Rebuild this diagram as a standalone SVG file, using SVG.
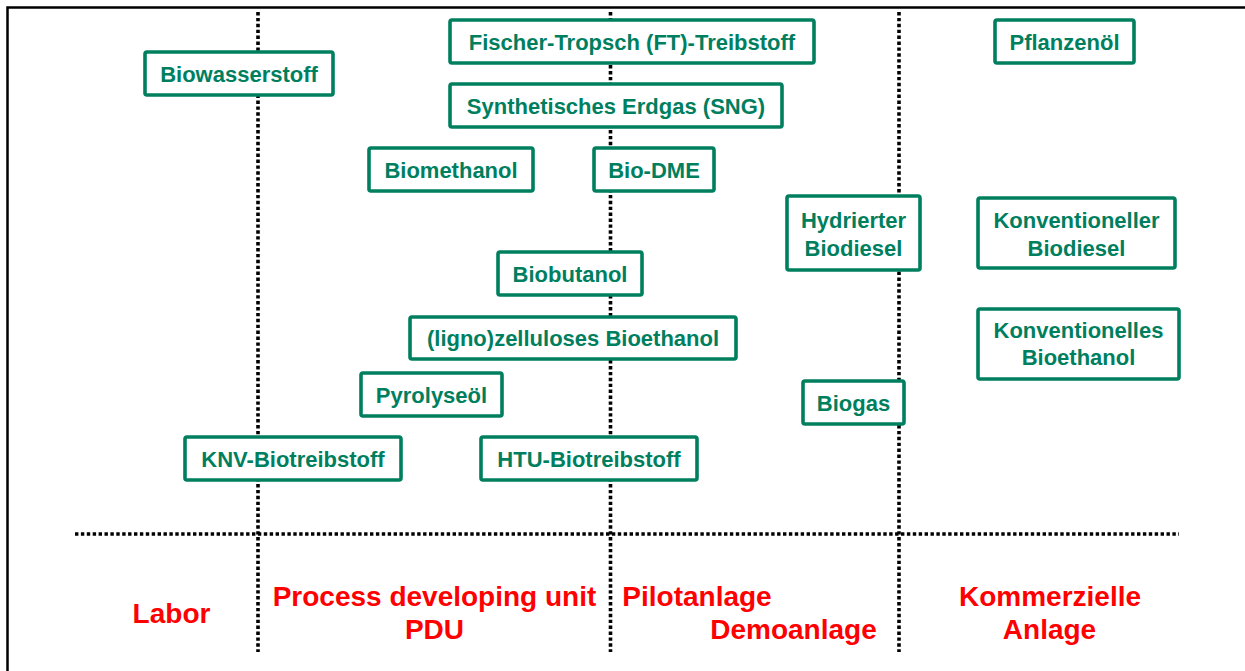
<svg xmlns="http://www.w3.org/2000/svg" width="1245" height="671" viewBox="0 0 1245 671">
<style>
.frame{fill:none;stroke:#000;stroke-width:2.5}
.grid{fill:none;stroke:#000;stroke-width:3.6;stroke-dasharray:3.4 2.5}
.box{fill:#fff;stroke:#007F5F;stroke-width:3.6}
.lbl{font-family:"Liberation Sans",Arial,sans-serif;font-weight:bold;font-size:22px;fill:#007F5F;text-anchor:middle}
.stage{font-family:"Liberation Sans",Arial,sans-serif;font-weight:bold;font-size:28px;fill:#FF0000;text-anchor:middle}
</style>
<rect width="1245" height="671" fill="#fff"/>
<path class="frame" d="M7.5,671 V7.5 H1245"/>
<g id="connectors">
<line class="grid" x1="258" y1="12" x2="258" y2="652"/>
<line class="grid" x1="610.5" y1="12" x2="610.5" y2="652"/>
<line class="grid" x1="899" y1="12" x2="899" y2="652"/>
<line class="grid" x1="75" y1="534" x2="1179" y2="534"/>
</g>
<g id="n-biowasserstoff"><rect class="box" x="145" y="52" width="188" height="43" rx="2"/><text class="lbl" x="239" y="81.5">Biowasserstoff</text></g>
<g id="n-ft"><rect class="box" x="450" y="20" width="364" height="43" rx="2"/><text class="lbl" x="632" y="49.5">Fischer-Tropsch (FT)-Treibstoff</text></g>
<g id="n-sng"><rect class="box" x="450" y="84" width="332" height="43" rx="2"/><text class="lbl" x="616" y="113.5">Synthetisches Erdgas (SNG)</text></g>
<g id="n-biomethanol"><rect class="box" x="369" y="148" width="164" height="43" rx="2"/><text class="lbl" x="451" y="177.5">Biomethanol</text></g>
<g id="n-biodme"><rect class="box" x="594" y="148" width="120" height="43" rx="2"/><text class="lbl" x="654" y="177.5">Bio-DME</text></g>
<g id="n-hydrierter"><rect class="box" x="787" y="196" width="133" height="74" rx="2"/><text class="lbl" x="853.5" y="228">Hydrierter</text><text class="lbl" x="853.5" y="256">Biodiesel</text></g>
<g id="n-pflanzenoel"><rect class="box" x="995" y="20" width="139" height="43" rx="2"/><text class="lbl" x="1064.5" y="49.5">Pflanzenöl</text></g>
<g id="n-konv-biodiesel"><rect class="box" x="978" y="198" width="197" height="70" rx="2"/><text class="lbl" x="1076.5" y="228">Konventioneller</text><text class="lbl" x="1076.5" y="256">Biodiesel</text></g>
<g id="n-konv-bioethanol"><rect class="box" x="978" y="309" width="201" height="70" rx="2"/><text class="lbl" x="1078.5" y="338">Konventionelles</text><text class="lbl" x="1078.5" y="365">Bioethanol</text></g>
<g id="n-biobutanol"><rect class="box" x="498" y="252" width="144" height="43" rx="2"/><text class="lbl" x="570" y="281.5">Biobutanol</text></g>
<g id="n-ligno"><rect class="box" x="410" y="317" width="326" height="42" rx="2"/><text class="lbl" x="573" y="346">(ligno)zelluloses Bioethanol</text></g>
<g id="n-pyrolyseoel"><rect class="box" x="361" y="373" width="141" height="43" rx="2"/><text class="lbl" x="431.5" y="402.5">Pyrolyseöl</text></g>
<g id="n-htu"><rect class="box" x="481" y="437" width="216" height="43" rx="2"/><text class="lbl" x="589" y="466.5">HTU-Biotreibstoff</text></g>
<g id="n-knv"><rect class="box" x="185" y="437" width="216" height="43" rx="2"/><text class="lbl" x="293" y="466.5">KNV-Biotreibstoff</text></g>
<g id="n-biogas"><rect class="box" x="803" y="381" width="101" height="43" rx="2"/><text class="lbl" x="853.5" y="410.5">Biogas</text></g>
<g id="stages">
<text class="stage" x="171.5" y="623">Labor</text>
<text class="stage" x="434.5" y="605.5">Process developing unit</text>
<text class="stage" x="434.5" y="638.5">PDU</text>
<text class="stage" x="697" y="605.5">Pilotanlage</text>
<text class="stage" x="793.5" y="638.5">Demoanlage</text>
<text class="stage" x="1050" y="605.5">Kommerzielle</text>
<text class="stage" x="1049.5" y="638.5">Anlage</text>
</g>
</svg>
